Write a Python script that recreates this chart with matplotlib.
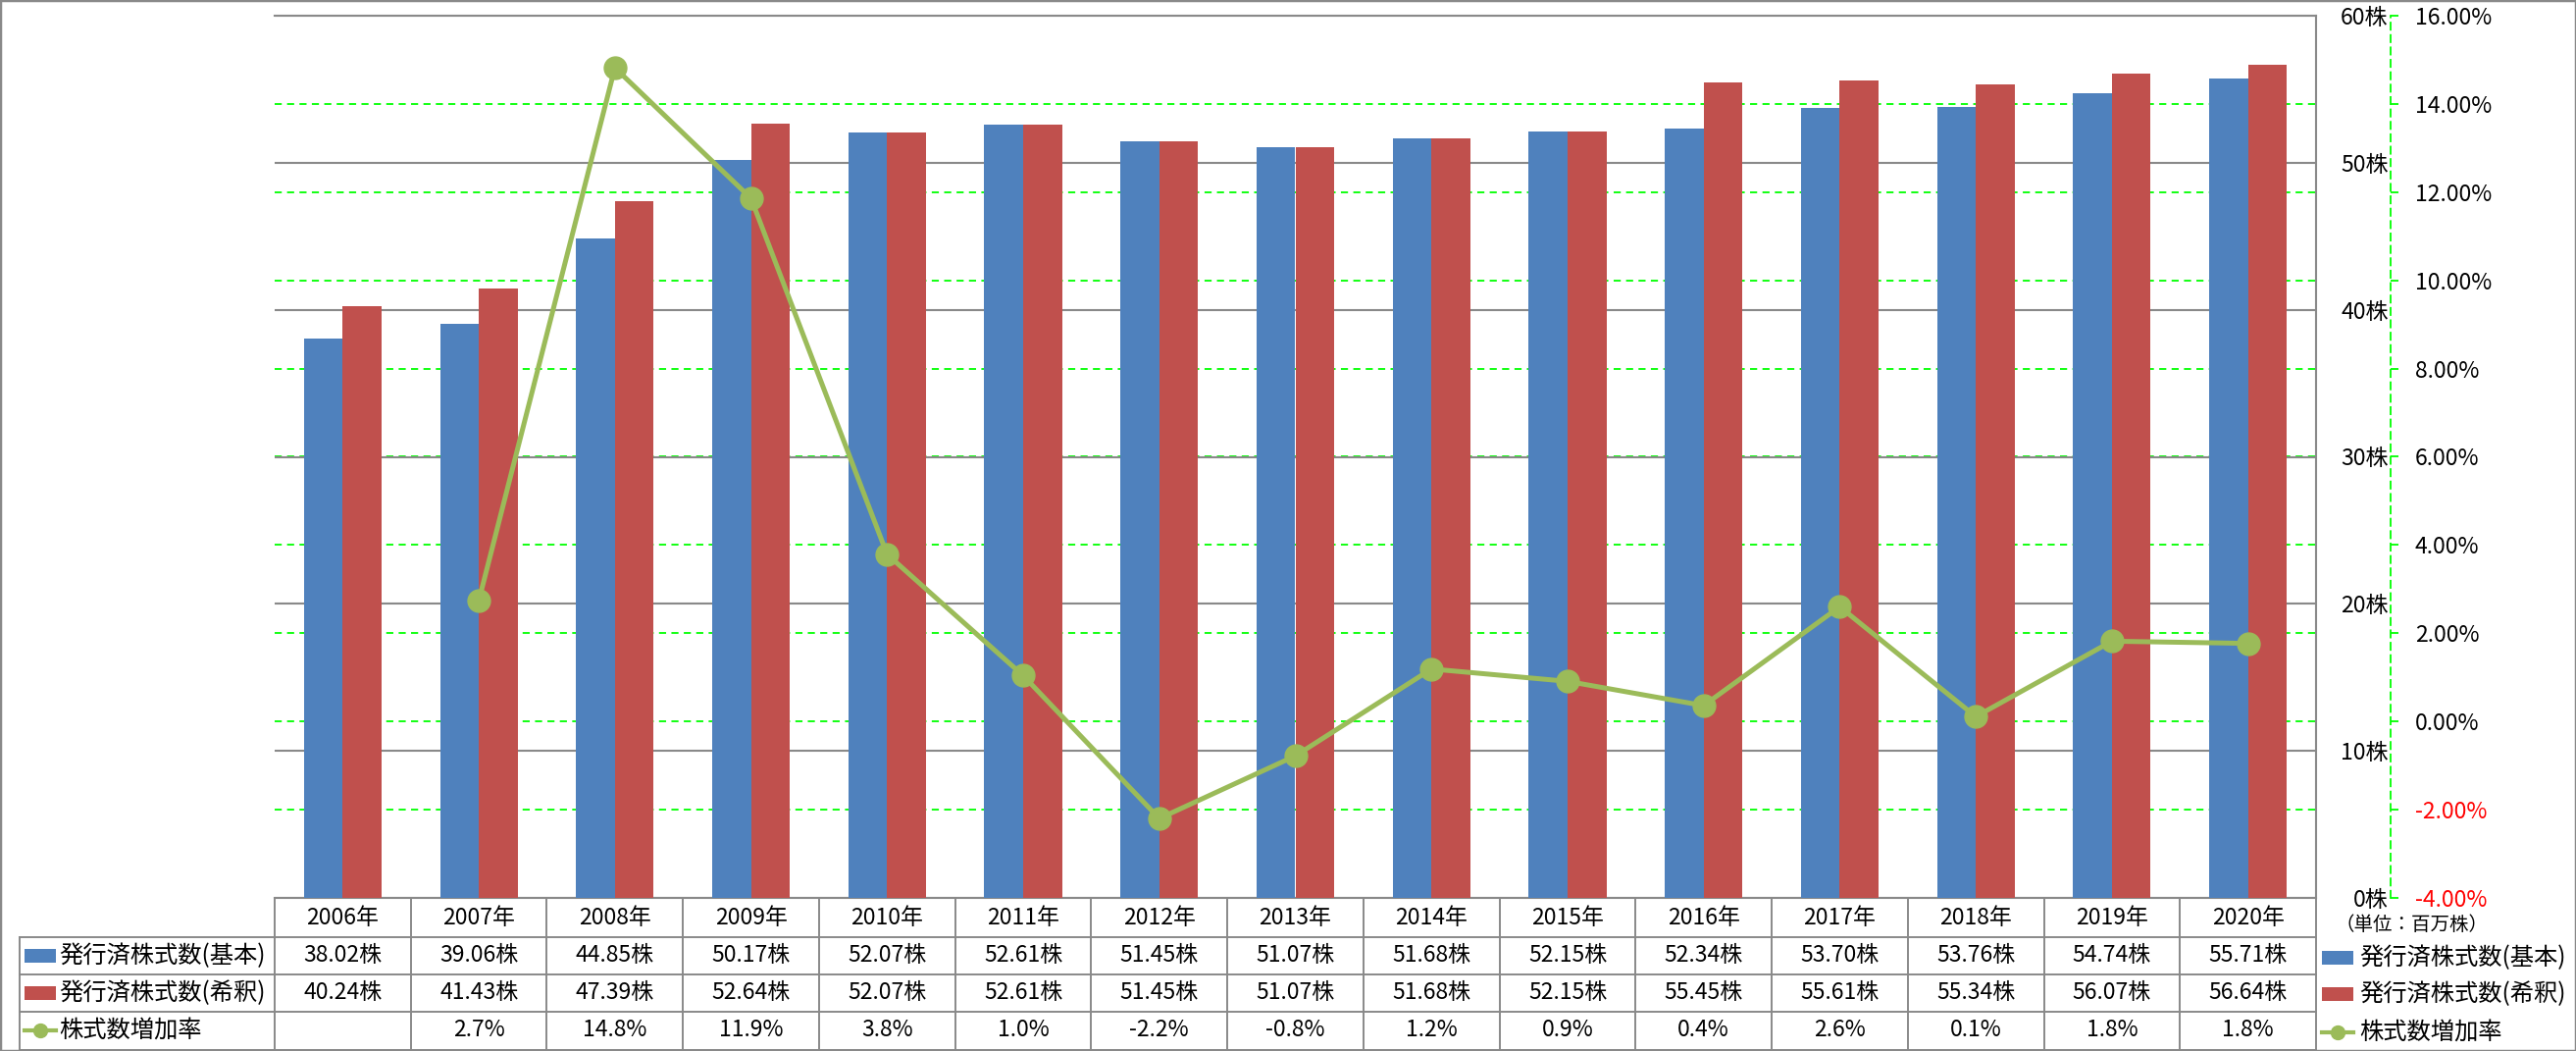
import matplotlib
matplotlib.use('Agg')
import matplotlib.pyplot as plt
import matplotlib.transforms as mtransforms
from matplotlib.lines import Line2D
from matplotlib.patches import Rectangle
import numpy as np

plt.rcParams['font.family'] = ['Noto Sans CJK JP', 'DejaVu Sans']

years = ['2006年', '2007年', '2008年', '2009年', '2010年', '2011年', '2012年', '2013年',
         '2014年', '2015年', '2016年', '2017年', '2018年', '2019年', '2020年']
basic = [38.02, 39.06, 44.85, 50.17, 52.07, 52.61, 51.45, 51.07,
         51.68, 52.15, 52.34, 53.70, 53.76, 54.74, 55.71]
diluted = [40.24, 41.43, 47.39, 52.64, 52.07, 52.61, 51.45, 51.07,
           51.68, 52.15, 55.45, 55.61, 55.34, 56.07, 56.64]
growth = [np.nan, 2.74, 14.82, 11.86, 3.79, 1.04, -2.20, -0.78,
          1.19, 0.91, 0.36, 2.60, 0.11, 1.82, 1.77]
series_names = ['発行済株式数(基本)', '発行済株式数(希釈)', '株式数増加率']
shares_ticks = [0, 10, 20, 30, 40, 50, 60]
pct_ticks = [-4, -2, 0, 2, 4, 6, 8, 10, 12, 14, 16]
unit_note = '（単位：百万株）'

BLUE = '#4F81BD'
RED = '#C0504D'
GREEN = '#9BBB59'
LIME = '#00FF00'
GRAY = '#898989'

W, H = 2626, 1071
fig = plt.figure(figsize=(W / 100, H / 100), dpi=100)


def fx(px):
    return px / W


def fy(py):
    return 1 - py / H


rect = [fx(280), fy(915), fx(2361) - fx(280), fy(16) - fy(915)]
x = np.arange(len(years))

# 副軸のグリッド(緑の点線)と目盛り
axg = fig.add_axes(rect)
axg.set_xlim(-0.5, len(years) - 0.5)
axg.set_ylim(-4, 16)
axg.set_xticks([])
axg.set_yticks(pct_ticks)
axg.set_yticklabels([f'{v:.2f}%' for v in pct_ticks])
axg.yaxis.tick_right()
axg.grid(axis='y', color=LIME, ls=(0, (4, 3)), lw=1.3)
for s in ['left', 'top', 'bottom']:
    axg.spines[s].set_visible(False)
axg.spines['right'].set_position(('axes', (2437 - 280) / (2361 - 280)))
axg.spines['right'].set_color(LIME)
axg.spines['right'].set_linestyle((0, (4, 3)))
axg.spines['right'].set_linewidth(1.3)
axg.tick_params(axis='y', direction='out', length=6, width=1.3, color=LIME, pad=12, labelsize=16.5)
for v, lab in zip(pct_ticks, axg.get_yticklabels()):
    lab.set_color('red' if v < 0 else 'black')

# 棒グラフ
ax = fig.add_axes(rect)
ax.patch.set_alpha(0)
ax.bar(x - 0.285 / 2, basic, 0.285, color=BLUE, zorder=3)
ax.bar(x + 0.285 / 2, diluted, 0.285, color=RED, zorder=3)
ax.set_xlim(-0.5, len(years) - 0.5)
ax.set_ylim(0, 60)
ax.set_xticks([])
ax.set_yticks(shares_ticks)
ax.set_yticklabels([f'{v}株' for v in shares_ticks])
ax.yaxis.tick_right()
ax.tick_params(axis='y', length=0, pad=53, labelsize=16.5)
for lab in ax.get_yticklabels():
    lab.set_ha('right')
ax.set_axisbelow(True)
ax.grid(axis='y', color=GRAY, lw=1.5)
ax.spines['left'].set_visible(False)
for s in ['top', 'right', 'bottom']:
    ax.spines[s].set_color(GRAY)
    ax.spines[s].set_linewidth(1.5)

# 増加率の折れ線
axl = fig.add_axes(rect)
axl.set_xlim(-0.5, len(years) - 0.5)
axl.set_ylim(-4, 16)
axl.axis('off')
axl.plot(x, growth, color=GREEN, lw=3.6, marker='o', ms=16.5, zorder=5)

# データテーブル
tx = mtransforms.blended_transform_factory(ax.transData, fig.transFigure)
for b in np.arange(-0.5, len(years)):
    fig.add_artist(Line2D([b, b], [fy(915), fy(1070)], transform=tx, color=GRAY, lw=1.4))
for yy in [955, 993, 1031, 1070]:
    fig.add_artist(Line2D([fx(20), fx(2361)], [fy(yy), fy(yy)],
                          transform=fig.transFigure, color=GRAY, lw=1.4))
fig.add_artist(Line2D([fx(20), fx(20)], [fy(955), fy(1070)],
                      transform=fig.transFigure, color=GRAY, lw=1.4))

row_y = [974, 1012, 1050]
for i in range(len(years)):
    fig.text(i, fy(935), years[i], transform=tx, ha='center', va='center', fontsize=16.5)
    fig.text(i, fy(row_y[0]), f'{basic[i]:.2f}株', transform=tx, ha='center', va='center', fontsize=16.5)
    fig.text(i, fy(row_y[1]), f'{diluted[i]:.2f}株', transform=tx, ha='center', va='center', fontsize=16.5)
    if not np.isnan(growth[i]):
        fig.text(i, fy(row_y[2]), f'{growth[i]:.1f}%', transform=tx, ha='center', va='center', fontsize=16.5)


def key(x0, yc, kind):
    if kind == 'line':
        fig.add_artist(Line2D([fx(x0), fx(x0 + 32)], [fy(yc), fy(yc)], transform=fig.transFigure,
                              color=GREEN, lw=3, marker=None))
        fig.add_artist(Line2D([fx(x0 + 16)], [fy(yc)], transform=fig.transFigure,
                              color=GREEN, marker='o', ms=10))
    else:
        fig.add_artist(Rectangle((fx(x0), fy(yc + 7)), fx(32), 14 / H,
                                 transform=fig.transFigure, color=kind, lw=0))


kinds = [BLUE, RED, 'line']
for name, kind, yc in zip(series_names, kinds, row_y):
    key(25, yc, kind)
    fig.text(fx(60), fy(yc), name, ha='left', va='center', fontsize=17.5)

# 凡例(右下)
fig.text(fx(2380), fy(943), unit_note, ha='left', va='center', fontsize=14)
for name, kind, yc in zip(series_names, kinds, [976, 1013, 1052]):
    key(2367, yc, kind)
    fig.text(fx(2405), fy(yc), name, ha='left', va='center', fontsize=17.5)

fig.add_artist(Rectangle((0, 0), 1, 1, transform=fig.transFigure, fill=False, ec=GRAY, lw=2.5))

fig.savefig('out.png', dpi=100)
